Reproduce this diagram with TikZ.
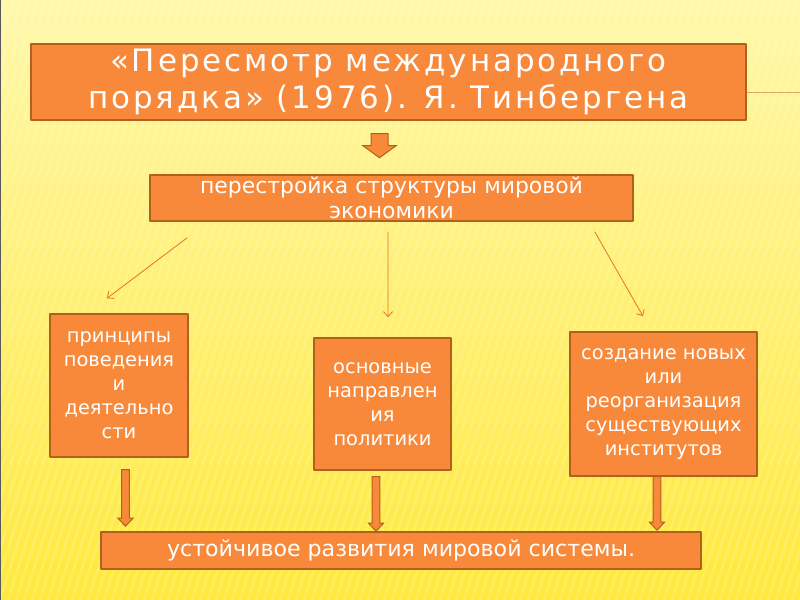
\documentclass[tikz,border=0pt]{standalone}
\usepackage{fontspec}
\setmainfont{DejaVu Sans}
\newfontfamily\titlefont[LetterSpace=9.5]{DejaVu Sans}
\usetikzlibrary{calc,arrows.meta}
\definecolor{boxorange}{RGB}{248,137,58}
\definecolor{boxbrown}{RGB}{178,96,28}
\definecolor{arrorange}{RGB}{236,112,30}
\definecolor{bgtop}{RGB}{255,248,170}
\definecolor{bgbot}{RGB}{255,233,62}
\definecolor{rulecol}{RGB}{222,168,90}
\tikzset{
  obox/.style={draw=boxbrown,line width=1.5bp,fill=boxorange,text=white,inner sep=0pt,align=center},
  smallbox/.style={obox,font=\fontsize{19.5}{24}\selectfont},
  thinarr/.style={arrorange,line width=0.8bp,-{Straight Barb[length=5bp,width=9bp]}},
  blockarr/.style={draw=boxbrown,line width=1bp,fill=boxorange,line join=miter},
}
% block arrow pointing down: start, tip, half shaft, half head, head length
\newcommand\blockdown[5]{%
  \draw[blockarr] ($(#1)+(-#3bp,0bp)$) -- ($(#1)+(#3bp,0bp)$) -- ($(#2)+(#3bp,#5bp)$)
    -- ($(#2)+(#4bp,#5bp)$) -- (#2) -- ($(#2)+(-#4bp,#5bp)$) -- ($(#2)+(-#3bp,#5bp)$) -- cycle;}
\begin{document}
\begin{tikzpicture}[line join=bevel]
%%
\useasboundingbox (0bp,0bp) rectangle (800bp,600bp);
\shade[top color=bgtop,bottom color=bgbot] (0bp,0bp) rectangle (800bp,600bp);
\begin{scope}
  \clip (0bp,0bp) rectangle (800bp,600bp);
  \foreach \i in {-200,-192,...,800}
    \draw[white,opacity=0.16,line width=2.5bp] (\i bp,0bp) -- (\i bp+190bp,600bp);
\end{scope}
\draw[gray!70!black,line width=1.2bp] (0.5bp,0bp) -- (0.5bp,600bp);
\draw[rulecol,line width=1bp] (745bp,507bp) -- (800bp,507bp);
%
\node (title) at (388.5bp,518.0bp) [obox,minimum width=715bp,minimum height=76bp,font=\titlefont\fontsize{31}{37}\selectfont] {«Пересмотр международного\\порядка» (1976). Я. Тинбергена};
  \node (restr) at (391.5bp,402.0bp) [obox,minimum width=483bp,minimum height=46bp,font=\fontsize{22}{25}\selectfont] {перестройка структуры мировой\\экономики};
  \node (princ) at (119.0bp,214.5bp) [smallbox,minimum width=138bp,minimum height=143bp] {принципы\\поведения\\и\\деятельно\\сти};
  \node (polit) at (382.5bp,196.0bp) [smallbox,minimum width=137bp,minimum height=132bp] {основные\\направлен\\ия\\политики};
  \node (inst) at (663.5bp,196.0bp) [smallbox,minimum width=187bp,minimum height=144bp] {создание новых\\или\\реорганизация\\существующих\\институтов};
  \node (goal) at (401.0bp,49.5bp) [obox,minimum width=600bp,minimum height=37bp,font=\fontsize{22.2}{25}\selectfont] {устойчивое развития мировой системы.};
%
\coordinate (princ-in) at ($(princ.north)+(-12bp,15bp)$);
  \coordinate (polit-in) at ($(polit.north)+(5.5bp,20bp)$);
  \coordinate (inst-in) at ($(inst.north)+(-20.5bp,15bp)$);
  \draw [thinarr] ($(restr.south west)+(38bp,-16bp)$) -- (princ-in);
  \draw [thinarr] ($(restr.south)+(-3.5bp,-10bp)$) -- (polit-in);
  \draw [thinarr] ($(restr.south east)+(-39bp,-10bp)$) -- (inst-in);
%
\blockdown{$(title.south)+(-9bp,-13bp)$}{$(title.south)+(-9bp,-37bp)$}{8.5}{16.5}{12}
  \blockdown{$(princ.south)+(6.5bp,-12bp)$}{$(princ.south |- goal.north)+(6.5bp,5bp)$}{3.8}{7.5}{8}
  \blockdown{$(polit.south)+(-6.5bp,-6bp)$}{$(polit.south |- goal.north)+(-6.5bp,0bp)$}{3.8}{7.5}{8}
  \blockdown{$(inst.south)+(-6.5bp,0bp)$}{$(inst.south |- goal.north)+(-6.5bp,1bp)$}{3.8}{7.5}{8}
%
\end{tikzpicture}
\end{document}
